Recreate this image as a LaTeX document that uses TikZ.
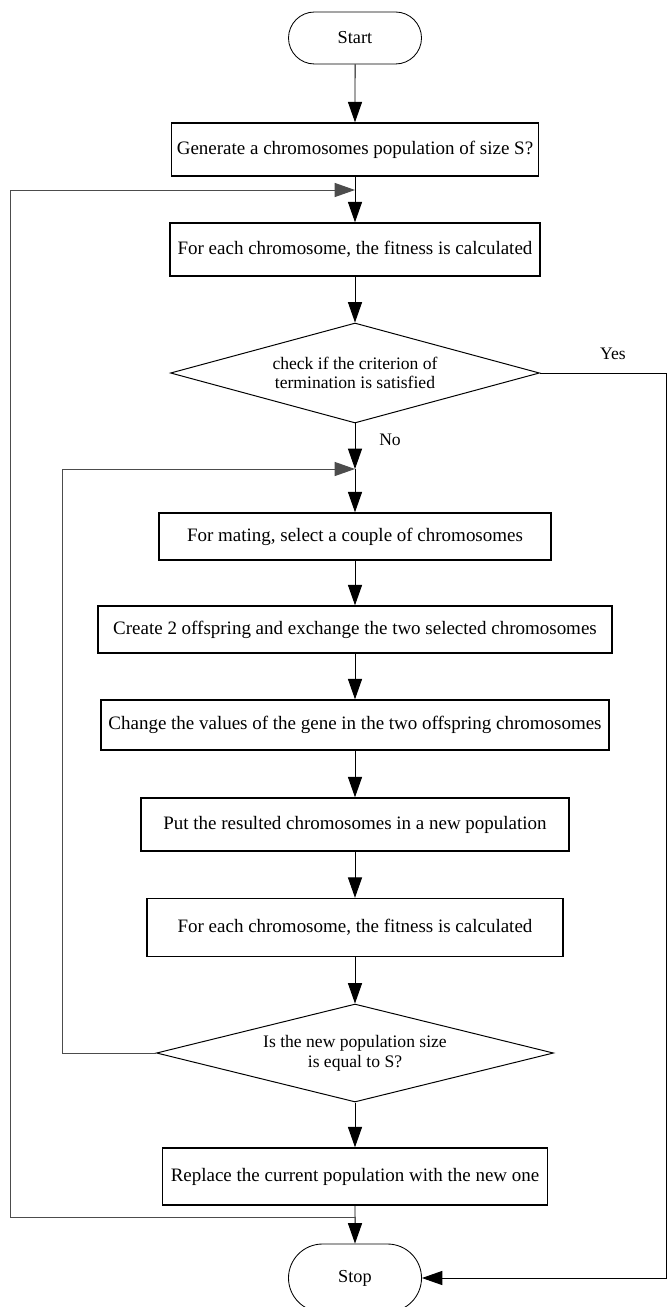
\documentclass[tikz,border=0pt]{standalone}
\usepackage{fontspec}
\setmainfont{Liberation Serif}
\usetikzlibrary{shapes.geometric,shapes.misc,arrows.meta}
\newcommand{\px}{0.025cm}

\begin{document}
\begin{tikzpicture}[x=\px, y=-\px,
    rect/.style={draw, rectangle, line width=1pt, minimum height=53*\px, inner sep=0pt, font=\fontsize{13.5}{16}\selectfont},
    term/.style={draw, rounded rectangle, line width=0.6pt, minimum width=133*\px, minimum height=52*\px, inner sep=0pt, font=\fontsize{13}{15}\selectfont},
    dec/.style={draw, diamond, aspect=3.7, line width=0.7pt, inner sep=0pt, align=center, font=\fontsize{12.5}{14}\selectfont},
    lbl/.style={inner sep=0pt, font=\fontsize{12.5}{15}\selectfont},
    arr/.style={draw, line width=0.7pt, -{Triangle[length=14.5pt, width=10pt]}},
    back/.style={arr, draw=black!70}]
    \useasboundingbox (0,0) rectangle (667,1307);

    % Main column
    \node[term] (start) at (355,38) {Start};
    \node[rect, minimum width=367*\px] (gen) at (355,149.5) {Generate a chromosomes population of size S?};
    \node[rect, minimum width=370*\px] (fit1) at (355,249.5) {For each chromosome, the fitness is calculated};
    \node[dec, minimum width=369*\px, minimum height=100*\px] (dec1) at (355,373) {check if the criterion of\\termination is satisfied};
    \node[rect, minimum width=392*\px, minimum height=47*\px] (mate) at (355,536.5) {For mating, select a couple of chromosomes};
    \node[rect, minimum width=514*\px, minimum height=47*\px] (cross) at (355,629.5) {Create 2 offspring and exchange the two selected chromosomes};
    \node[rect, minimum width=508*\px, minimum height=50*\px] (mut) at (355,725) {Change the values of the gene in the two offspring chromosomes};
    \node[rect, minimum width=428*\px] (put) at (355,824.5) {Put the resulted chromosomes in a new population};
    \node[rect, minimum width=416*\px, minimum height=58*\px] (fit2) at (355,927.5) {For each chromosome, the fitness is calculated};
    \node[dec, minimum width=397*\px, minimum height=98*\px] (dec2) at (355,1053) {Is the new population size\\is equal to S?};
    \node[rect, minimum width=385*\px, minimum height=57*\px] (repl) at (355,1176.5) {Replace the current population with the new one};
    \node[term, minimum height=68*\px] (stop) at (355,1278) {Stop};

    % Labels
    \node[lbl] (yes) at (613,354) {Yes};
    \node[lbl] (no) at (390,440) {No};

    % Joints and corners
    \coordinate (j1) at (355,190);
    \coordinate (j2) at (355,469);
    \coordinate (j3) at (355,1217);
    \coordinate (c-yes) at (666,373);
    \coordinate (c-outer) at (10,1217);
    \coordinate (c-inner) at (62,1053);

    % Arrows
    \draw[arr] (start) -- (gen);
    \draw[arr] (gen) -- (fit1);
    \draw[arr] (fit1) -- (dec1);
    \draw[arr] (dec1) -- (j2);
    \draw[arr] (j2) -- (mate);
    \draw[arr] (mate) -- (cross);
    \draw[arr] (cross) -- (mut);
    \draw[arr] (mut) -- (put);
    \draw[arr] (put) -- (fit2);
    \draw[arr] (fit2) -- (dec2);
    \draw[arr] (dec2) -- (repl);
    \draw[arr] (repl) -- (stop);
    \draw[arr] (dec1) -- (c-yes) |- (stop);
    \draw[back] (dec2) -- (c-inner) |- (j2);
    \draw[back] (j3) -- (c-outer) |- (j1);
\end{tikzpicture}
\end{document}
